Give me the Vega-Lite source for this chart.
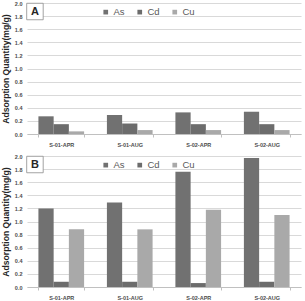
{
  "$schema": "https://vega.github.io/schema/vega-lite/v6.json",
  "autosize": {"type": "pad"},
  "padding": {"left": 1, "top": 1, "right": 2, "bottom": 0},
  "background": "white",
  "datasets": {
    "panelA": [
      {"sample": "S-01-APR", "metal": "As", "q": 0.27},
      {"sample": "S-01-APR", "metal": "Cd", "q": 0.15},
      {"sample": "S-01-APR", "metal": "Cu", "q": 0.04},
      {"sample": "S-01-AUG", "metal": "As", "q": 0.29},
      {"sample": "S-01-AUG", "metal": "Cd", "q": 0.16},
      {"sample": "S-01-AUG", "metal": "Cu", "q": 0.06},
      {"sample": "S-02-APR", "metal": "As", "q": 0.33},
      {"sample": "S-02-APR", "metal": "Cd", "q": 0.15},
      {"sample": "S-02-APR", "metal": "Cu", "q": 0.06},
      {"sample": "S-02-AUG", "metal": "As", "q": 0.34},
      {"sample": "S-02-AUG", "metal": "Cd", "q": 0.15},
      {"sample": "S-02-AUG", "metal": "Cu", "q": 0.06}
    ],
    "panelB": [
      {"sample": "S-01-APR", "metal": "As", "q": 1.20},
      {"sample": "S-01-APR", "metal": "Cd", "q": 0.08},
      {"sample": "S-01-APR", "metal": "Cu", "q": 0.88},
      {"sample": "S-01-AUG", "metal": "As", "q": 1.29},
      {"sample": "S-01-AUG", "metal": "Cd", "q": 0.08},
      {"sample": "S-01-AUG", "metal": "Cu", "q": 0.88},
      {"sample": "S-02-APR", "metal": "As", "q": 1.76},
      {"sample": "S-02-APR", "metal": "Cd", "q": 0.06},
      {"sample": "S-02-APR", "metal": "Cu", "q": 1.18},
      {"sample": "S-02-AUG", "metal": "As", "q": 1.97},
      {"sample": "S-02-AUG", "metal": "Cd", "q": 0.08},
      {"sample": "S-02-AUG", "metal": "Cu", "q": 1.10}
    ]
  },
  "config": {
    "font": "Liberation Sans",
    "view": {"stroke": null},
    "axis": {
      "labelFont": "Liberation Sans",
      "labelFontWeight": "bold",
      "labelFontSize": 5.5,
      "labelColor": "#4d4d4d",
      "labelOverlap": false,
      "titleFont": "Liberation Sans",
      "titleFontWeight": "bold",
      "titleFontSize": 8.6,
      "titleColor": "#262626"
    },
    "axisX": {"title": null, "labelAngle": 0, "labelPadding": 5, "domainColor": "#c0c0c0", "tickColor": "#c0c0c0", "tickBand": "extent", "tickSize": 3, "grid": false},
    "axisY": {"domain": false, "ticks": false, "labelPadding": 5, "grid": true, "gridColor": "#d9d9d9", "titlePadding": 4},
    "legend": {
      "orient": "none",
      "legendX": 74,
      "legendY": 4,
      "direction": "horizontal",
      "title": null,
      "symbolType": "square",
      "symbolSize": 22,
      "symbolStrokeWidth": 0,
      "labelFontSize": 9.5,
      "labelColor": "#595959",
      "labelFont": "Liberation Sans",
      "columnPadding": 10,
      "labelOffset": 3
    }
  },
  "vconcat": [
    {
      "width": 274,
      "height": 131,
      "layer": [
        {
          "data": {"name": "panelA"},
          "mark": {"type": "bar"},
          "encoding": {
            "x": {
              "field": "sample", "type": "nominal", "sort": null,
              "scale": {"paddingInner": 0.333, "paddingOuter": 0.1667},
              "axis": {"title": null}
            },
            "xOffset": {"field": "metal", "type": "nominal", "scale": {"paddingInner": 0, "paddingOuter": 0}},
            "y": {
              "field": "q", "type": "quantitative",
              "scale": {"domain": [0, 2], "nice": false, "zero": true},
              "axis": {"title": "Adsorption Quantity(mg/g)", "values": [0, 0.2, 0.4, 0.6, 0.8, 1.0, 1.2, 1.4, 1.6, 1.8, 2.0], "format": ".1f"}
            },
            "color": {
              "field": "metal", "type": "nominal",
              "scale": {"domain": ["As", "Cd", "Cu"], "range": ["#717171", "#6c6c6c", "#a9a9a9"]}
            }
          }
        },
        {
          "data": {"values": [{"panel": "A"}]},
          "mark": {"type": "point", "shape": "square", "filled": true, "fill": "white", "stroke": "#8c8c8c", "strokeWidth": 0.8, "size": 272, "opacity": 1},
          "encoding": {
            "x": {"datum": "S-01-APR", "bandPosition": -0.076, "axis": {"title": null}},
            "y": {"datum": 1.87, "axis": {"title": "Adsorption Quantity(mg/g)", "values": [0, 0.2, 0.4, 0.6, 0.8, 1.0, 1.2, 1.4, 1.6, 1.8, 2.0], "format": ".1f"}}
          }
        },
        {
          "data": {"values": [{"panel": "A"}]},
          "mark": {"type": "text", "fontSize": 11, "fontWeight": "bold", "color": "#262626", "baseline": "middle", "align": "center"},
          "encoding": {
            "x": {"datum": "S-01-APR", "bandPosition": -0.076, "axis": {"title": null}},
            "y": {"datum": 1.87, "axis": {"title": "Adsorption Quantity(mg/g)", "values": [0, 0.2, 0.4, 0.6, 0.8, 1.0, 1.2, 1.4, 1.6, 1.8, 2.0], "format": ".1f"}},
            "text": {"field": "panel"}
          }
        }
      ]
    },
    {
      "width": 274,
      "height": 131,
      "layer": [
        {
          "data": {"name": "panelB"},
          "mark": {"type": "bar"},
          "encoding": {
            "x": {
              "field": "sample", "type": "nominal", "sort": null,
              "scale": {"paddingInner": 0.333, "paddingOuter": 0.1667},
              "axis": {"title": null}
            },
            "xOffset": {"field": "metal", "type": "nominal", "scale": {"paddingInner": 0, "paddingOuter": 0}},
            "y": {
              "field": "q", "type": "quantitative",
              "scale": {"domain": [0, 2], "nice": false, "zero": true},
              "axis": {"title": "Adsorption Quantity(mg/g)", "values": [0, 0.2, 0.4, 0.6, 0.8, 1.0, 1.2, 1.4, 1.6, 1.8, 2.0], "format": ".1f"}
            },
            "color": {
              "field": "metal", "type": "nominal",
              "scale": {"domain": ["As", "Cd", "Cu"], "range": ["#717171", "#6c6c6c", "#a9a9a9"]}
            }
          }
        },
        {
          "data": {"values": [{"panel": "B"}]},
          "mark": {"type": "point", "shape": "square", "filled": true, "fill": "white", "stroke": "#8c8c8c", "strokeWidth": 0.8, "size": 272, "opacity": 1},
          "encoding": {
            "x": {"datum": "S-01-APR", "bandPosition": -0.076, "axis": {"title": null}},
            "y": {"datum": 1.87, "axis": {"title": "Adsorption Quantity(mg/g)", "values": [0, 0.2, 0.4, 0.6, 0.8, 1.0, 1.2, 1.4, 1.6, 1.8, 2.0], "format": ".1f"}}
          }
        },
        {
          "data": {"values": [{"panel": "B"}]},
          "mark": {"type": "text", "fontSize": 11, "fontWeight": "bold", "color": "#262626", "baseline": "middle", "align": "center"},
          "encoding": {
            "x": {"datum": "S-01-APR", "bandPosition": -0.076, "axis": {"title": null}},
            "y": {"datum": 1.87, "axis": {"title": "Adsorption Quantity(mg/g)", "values": [0, 0.2, 0.4, 0.6, 0.8, 1.0, 1.2, 1.4, 1.6, 1.8, 2.0], "format": ".1f"}},
            "text": {"field": "panel"}
          }
        }
      ]
    }
  ],
  "spacing": 22,
  "bounds": "flush",
  "resolve": {"scale": {"y": "independent", "color": "independent", "x": "independent"}, "legend": {"color": "independent"}}
}
